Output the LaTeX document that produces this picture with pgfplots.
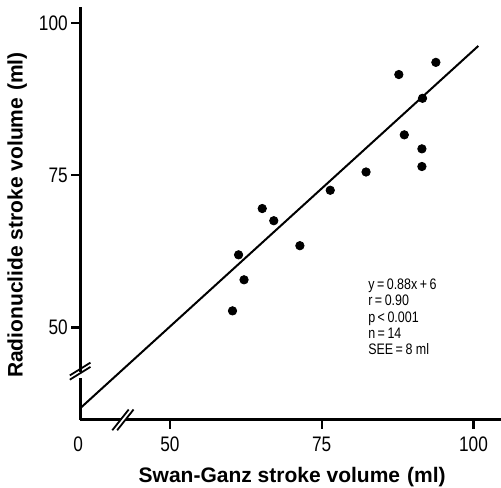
\documentclass[border=0pt]{standalone}
\usepackage{fontspec}
\setmainfont{Liberation Sans}
\newfontfamily\condfont[FakeStretch=0.82]{Liberation Sans}
\usepackage{pgfplots}
\pgfplotsset{compat=1.18}
\begin{document}
\begin{tikzpicture}
\begin{axis}[
  x=3.035pt, y=3.045pt,
  xmin=35.2, xmax=104.5, ymin=34.8, ymax=102.6,
  axis lines=left,
  axis line style={line width=1.6pt, -},
  xtick={50,75,100}, ytick={50,75,100},
  tick align=outside, major tick length=4.5pt,
  every tick/.style={line width=1.2pt, black},
  ticklabel style={font=\condfont\fontsize{10.5}{12}\selectfont, inner sep=0pt},
  xticklabel style={yshift=-4pt},
  yticklabel style={xshift=-1.5pt},
  /pgf/number format/assume math mode=true,
  xlabel={Swan-Ganz stroke volume\,\,(ml)},
  ylabel={Radionuclide stroke volume\,\,(ml)},
  label style={font=\bfseries\fontsize{10.5}{12}\selectfont},
  xlabel style={at={(axis description cs:0.504,0)}, anchor=center, yshift=-28.5pt},
  ylabel style={at={(axis description cs:0,0.496)}, anchor=center, yshift=31.5pt},
  clip=false,
]
\addplot[line width=1pt, black] coordinates {(35.2,36.7) (100.8,96.2)};
\addplot[only marks, mark=*, mark size=2.1pt, black] coordinates {
(87.7,91.5) (93.8,93.5) (91.6,87.6) (88.6,81.6) (91.5,79.3) (91.5,76.4)
(82.3,75.5) (76.4,72.5) (65.2,69.5) (67.1,67.5) (71.4,63.4) (61.3,61.9)
(62.2,57.8) (60.3,52.7)};
% axis breaks
\fill[white] (axis cs:34.4,41.75) rectangle (axis cs:36.0,42.65);
\draw[line width=0.9pt] (axis cs:33.5,41.4) -- (axis cs:36.9,43.5);
\draw[line width=0.9pt] (axis cs:33.5,42.1) -- (axis cs:36.9,44.2);
\fill[white] (axis cs:41.9,34.2) rectangle (axis cs:42.8,35.4);
\draw[line width=0.9pt] (axis cs:40.5,33.1) -- (axis cs:43.2,36.5);
\draw[line width=0.9pt] (axis cs:41.3,33.1) -- (axis cs:44.0,36.5);
\node[anchor=north, inner sep=0pt, font=\condfont\fontsize{10.5}{12}\selectfont]
  at ([yshift=-8.5pt,xshift=-1pt]axis cs:35.2,34.8) {0};
\node[anchor=north west, align=left, inner sep=0pt,
      font=\condfont\fontsize{7.6}{8.1}\selectfont]
  at (axis cs:82.6,58.0)
  {y\,=\,0.88x\,+\,6\\ r\,=\,0.90\\ p\,<\,0.001\\ n\,=\,14\\ SEE\,=\,8 ml};
\coordinate (bl) at (axis cs:22.0,23.78);
\coordinate (tr) at (axis cs:104.53,103.74);
\end{axis}
\pgfresetboundingbox
\useasboundingbox (bl) rectangle (tr);
\end{tikzpicture}
\end{document}
